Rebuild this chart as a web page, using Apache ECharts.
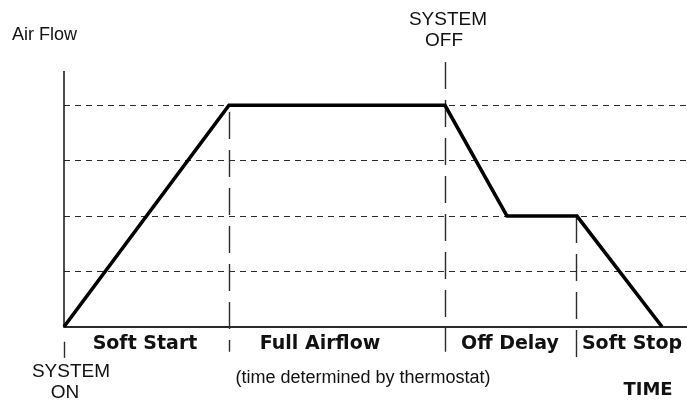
<!DOCTYPE html>
<html>
<head>
<meta charset="utf-8">
<script src="https://cdn.jsdelivr.net/npm/echarts@6/dist/echarts.min.js"></script>
<style>
  html, body { margin: 0; padding: 0; background: #fff; }
  #chart { width: 687px; height: 402px; }
</style>
</head>
<body>
<div id="chart"></div>
<script>
// Fan airflow profile over one heating/cooling cycle (time in arbitrary steps)
const timeSteps = [0, 165, 381, 443, 513, 598];
const airflow = [0, 4, 4, 2, 2, 0];

// Reference airflow levels drawn as dashed guides
const flowLevels = [1, 2, 3, 4];

// Where each operating phase begins (after system on)
const phaseBoundaries = [165, 381, 512];
const phaseNames = ['Soft Start', 'Full Airflow', 'Off Delay', 'Soft Stop'];

const TIME_MAX = 623;

const chart = echarts.init(document.getElementById('chart'), null, { renderer: 'canvas' });

const dark = '#2b2b2b';
const boldFont = '"DejaVu Sans", sans-serif';
const plainFont = '"Liberation Sans", Arial, sans-serif';

// Vertical phase markers: how far each one reaches above and below the time axis
const markerTops = [3.88, 4.78, 2];
const markerBottoms = [-0.45, -0.45, -0.56];

const guideLines = [];
flowLevels.forEach(v => guideLines.push({
  yAxis: v,
  lineStyle: { type: [6, 5], color: dark, width: 1.2 }
}));
phaseBoundaries.forEach((t, i) => guideLines.push([
  { coord: [t, markerTops[i]], lineStyle: { type: [27, 11], color: dark, width: 1.4 } },
  { coord: [t, markerBottoms[i]] }
]));
// vertical airflow axis
guideLines.push([
  { coord: [0, 0], lineStyle: { type: 'solid', color: '#111', width: 1.5 } },
  { coord: [0, 4.62] }
]);
// "system on" tick below the origin
guideLines.push([
  { coord: [0, -0.27], lineStyle: { type: 'solid', color: dark, width: 1.4 } },
  { coord: [0, -0.56] }
]);

function txt(text, x, y, font, size, weight, align) {
  return {
    type: 'text',
    x: x, y: y,
    silent: true,
    style: {
      text: text,
      fill: '#111',
      font: (weight || 'normal') + ' ' + size + 'px ' + font,
      textAlign: align || 'center',
      textVerticalAlign: 'middle'
    }
  };
}

const phaseCenters = [145, 320, 510, 632];

const option = {
  animation: false,
  backgroundColor: '#ffffff',
  grid: { left: 64, right: 0, top: 61, bottom: 42 },
  xAxis: {
    type: 'value',
    min: 0,
    max: TIME_MAX,
    axisLine: { show: true, onZero: true, lineStyle: { color: dark, width: 2 } },
    axisTick: { show: false },
    axisLabel: { show: false },
    splitLine: { show: false }
  },
  yAxis: {
    type: 'value',
    min: -0.6,
    max: 4.8,
    axisLine: { show: false },
    axisTick: { show: false },
    axisLabel: { show: false },
    splitLine: { show: false }
  },
  series: [
    {
      name: 'guides',
      type: 'line',
      data: [],
      silent: true,
      clip: false,
      z: 1,
      markLine: {
        silent: true,
        symbol: 'none',
        z: 1,
        animation: false,
        label: { show: false },
        emphasis: { disabled: true },
        data: guideLines
      }
    },
    {
      name: 'Air Flow',
      type: 'line',
      z: 5,
      clip: false,
      symbol: 'none',
      lineStyle: { color: '#000', width: 3.6, join: 'miter' },
      emphasis: { disabled: true },
      data: timeSteps.map((t, i) => [t, airflow[i]])
    }
  ],
  graphic: [
    txt('Air Flow', 12, 35, plainFont, 18, 'normal', 'left'),
    txt('SYSTEM', 448, 20, plainFont, 19),
    txt('OFF', 444, 41, plainFont, 19),
    txt('SYSTEM', 71, 372, plainFont, 19),
    txt('ON', 65, 393, plainFont, 19),
    txt(phaseNames[0], phaseCenters[0], 344, boldFont, 19, 'bold'),
    txt(phaseNames[1], phaseCenters[1], 344, boldFont, 19, 'bold'),
    txt(phaseNames[2], phaseCenters[2], 344, boldFont, 19, 'bold'),
    txt(phaseNames[3], phaseCenters[3], 344, boldFont, 19, 'bold'),
    txt('(time determined by thermostat)', 363, 378, plainFont, 18),
    txt('TIME', 648, 390, boldFont, 18, 'bold')
  ]
};

chart.setOption(option);
</script>
</body>
</html>
